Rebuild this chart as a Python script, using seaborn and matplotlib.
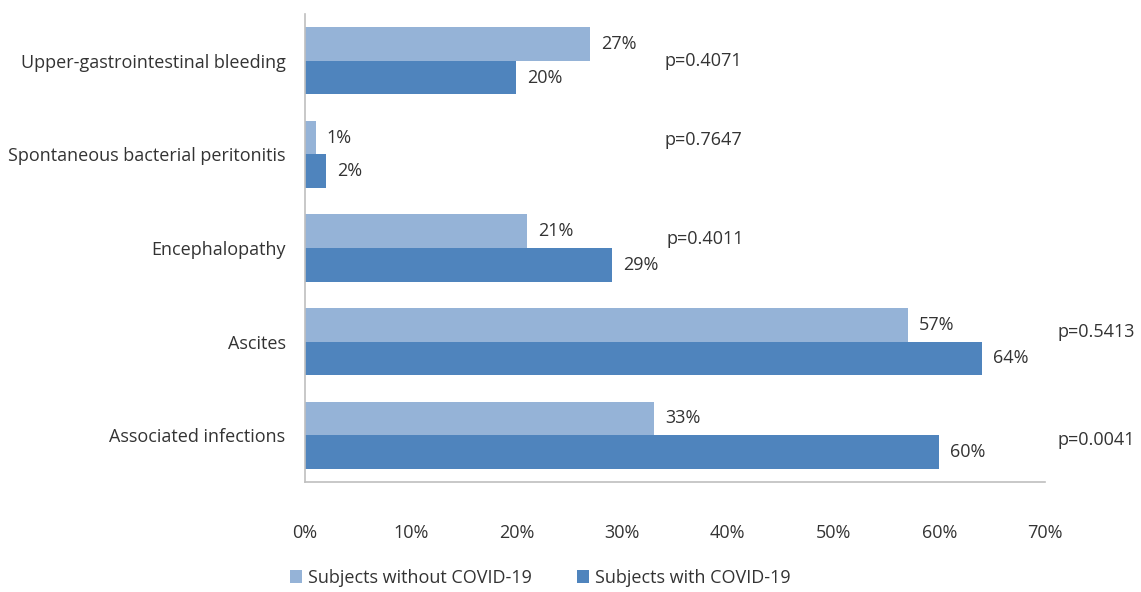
import matplotlib
matplotlib.use("Agg")
import matplotlib.pyplot as plt
from matplotlib import font_manager
import seaborn as sns
import pandas as pd

categories = ["Upper-gastrointestinal bleeding", "Spontaneous bacterial peritonitis",
              "Encephalopathy", "Ascites", "Associated infections"]
without_covid = [27, 1, 21, 57, 33]
with_covid = [20, 2, 29, 64, 60]
p_values = ["p=0.4071", "p=0.7647", "p=0.4011", "p=0.5413", "p=0.0041"]
p_x = [34, 34, 34.2, 71.2, 71.2]
p_dy = [0.0, -0.15, -0.1, -0.1, 0.05]
series_names = ["Subjects without COVID-19", "Subjects with COVID-19"]
xticks = [0, 10, 20, 30, 40, 50, 60, 70]

sns.set_style("white")
avail = {f.name for f in font_manager.fontManager.ttflist}
fam = "Liberation Sans Narrow" if "Liberation Sans Narrow" in avail else "Open Sans"
plt.rcParams["font.family"] = [fam, "DejaVu Sans"]

df = pd.DataFrame({
    "category": categories * 2,
    "value": without_covid + with_covid,
    "series": [series_names[0]] * 5 + [series_names[1]] * 5,
})

fig = plt.figure(figsize=(11.41, 5.92), dpi=100)
ax = fig.add_axes([305 / 1141, 1 - 482 / 592, (1045 - 305) / 1141, (482 - 14) / 592])
palette = {series_names[0]: "#95B3D7", series_names[1]: "#4F84BD"}
sns.barplot(data=df, y="category", x="value", hue="series", orient="h",
            palette=palette, width=0.72, ax=ax, saturation=1, legend=True,
            linewidth=0, edgecolor="none")

txt = "#333333"
for cont in ax.containers:
    ax.bar_label(cont, labels=[f"{int(v.get_width())}%" for v in cont],
                 padding=8, fontsize=13, color=txt)

for i, (p, x, dy) in enumerate(zip(p_values, p_x, p_dy)):
    ax.text(x, i + dy, p, fontsize=13, color=txt, va="center", ha="left", clip_on=False)

ax.set_xlim(0, 70)
ax.set_xticks(xticks)
ax.set_xticklabels([f"{t}%" for t in xticks], fontsize=13, color=txt)
ax.tick_params(axis="x", length=0, pad=30)
ax.tick_params(axis="y", length=0, pad=14, labelsize=13, labelcolor=txt)
ax.set_xlabel("")
ax.set_ylabel("")
for s in ["top", "right"]:
    ax.spines[s].set_visible(False)
for s in ["left", "bottom"]:
    ax.spines[s].set_color("#BFBFBF")
    ax.spines[s].set_linewidth(1.2)

leg = ax.legend(loc="center", bbox_to_anchor=(540 / 1141, 1 - 578 / 592),
                bbox_transform=fig.transFigure, ncol=2, frameon=False,
                fontsize=13, handlelength=0.7, handleheight=0.7, handletextpad=0.3,
                columnspacing=2.5, labelcolor=txt)

fig.savefig("out.png", dpi=100, facecolor="white")
